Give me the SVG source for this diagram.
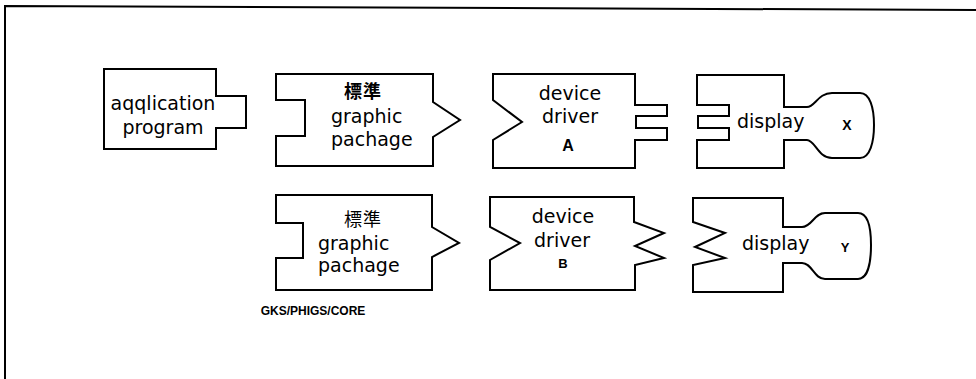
<svg xmlns="http://www.w3.org/2000/svg" width="976" height="379" viewBox="0 0 976 379">
<style>
.sh{fill:#fff;stroke:#000;stroke-width:2;stroke-linejoin:miter}
.t{font-family:"DejaVu Sans","Liberation Sans",sans-serif;font-size:19px;fill:#000}
.c{font-family:"Noto Sans CJK JP","Noto Sans CJK SC",sans-serif;font-size:18px;letter-spacing:1px;fill:#000;text-anchor:middle}
.b{font-family:"Liberation Sans",Arial,sans-serif;font-weight:bold;fill:#000;text-anchor:middle}
.m{text-anchor:middle}
</style>
<rect width="976" height="379" fill="#fff"/>
<path d="M5,379 V6 L976,10" fill="none" stroke="#000" stroke-width="2"/>
<g id="application-program">
<path class="sh" d="M104,69 H216 V96 H246 V128 H216 V149 H104 Z"/>
<text class="t m" x="163" y="110">aqqlication</text>
<text class="t m" x="163" y="134">program</text>
</g>
<g id="graphic-package-1">
<path class="sh" d="M276,74 H433 V102 L460,120 L433,137 V166 H276 V136 H305 V100 H276 Z"/>
<text class="c" x="363" y="98" font-weight="bold">標準</text>
<text class="t" x="331" y="123">graphic</text>
<text class="t" x="331" y="146">pachage</text>
</g>
<g id="device-driver-a">
<path class="sh" d="M493,74 H635 V105 H667 V116 H636 V128 H667 V140 H635 V168 H493 V140 L522,122 L493,100 Z"/>
<text class="t m" x="570" y="100">device</text>
<text class="t m" x="570" y="123">driver</text>
<text class="b" x="568" y="151" font-size="16">A</text>
</g>
<g id="display-x">
<path class="sh" d="M697,75 H784 V107 H807 C815,107 818,93 832,93 H860 C870,93 874,108 874,125 C874,142 870,158 860,158 H832 C818,158 815,140 807,140 H784 V168 H697 V140 H729 V128 H698 V116 H729 V105 H697 Z"/>
<text class="t" x="737" y="128">display</text>
<text class="b" x="847" y="130" font-size="14">X</text>
</g>
<g id="graphic-package-2">
<path class="sh" d="M276,195 H432 V227 L459,243 L432,257 V290 H276 V258 H303 V223 H276 Z"/>
<text class="c" x="363" y="226">標準</text>
<text class="t" x="318" y="250">graphic</text>
<text class="t" x="318" y="272">pachage</text>
<text class="b" x="313" y="315" font-size="12">GKS/PHIGS/CORE</text>
</g>
<g id="device-driver-b">
<path class="sh" d="M490,197 H634 V222 L664,233 L635,246 L664,258 L635,265 V290 H490 V260 L520,243 L490,227 Z"/>
<text class="t m" x="563" y="223">device</text>
<text class="t m" x="562" y="247">driver</text>
<text class="b" x="563" y="268" font-size="13">B</text>
</g>
<g id="display-y">
<path class="sh" d="M693,198 H783 V227 H802 C812,227 814,213 825,213 H858 C868,213 871,228 871,245 C871,262 868,279 858,279 H825 C814,279 812,263 802,263 H783 V292 H693 V265 L725,258 L695,247 L725,233 L693,222 Z"/>
<text class="t" x="742" y="250">display</text>
<text class="b" x="845" y="252" font-size="13">Y</text>
</g>
<g id="connectors"/>
</svg>
